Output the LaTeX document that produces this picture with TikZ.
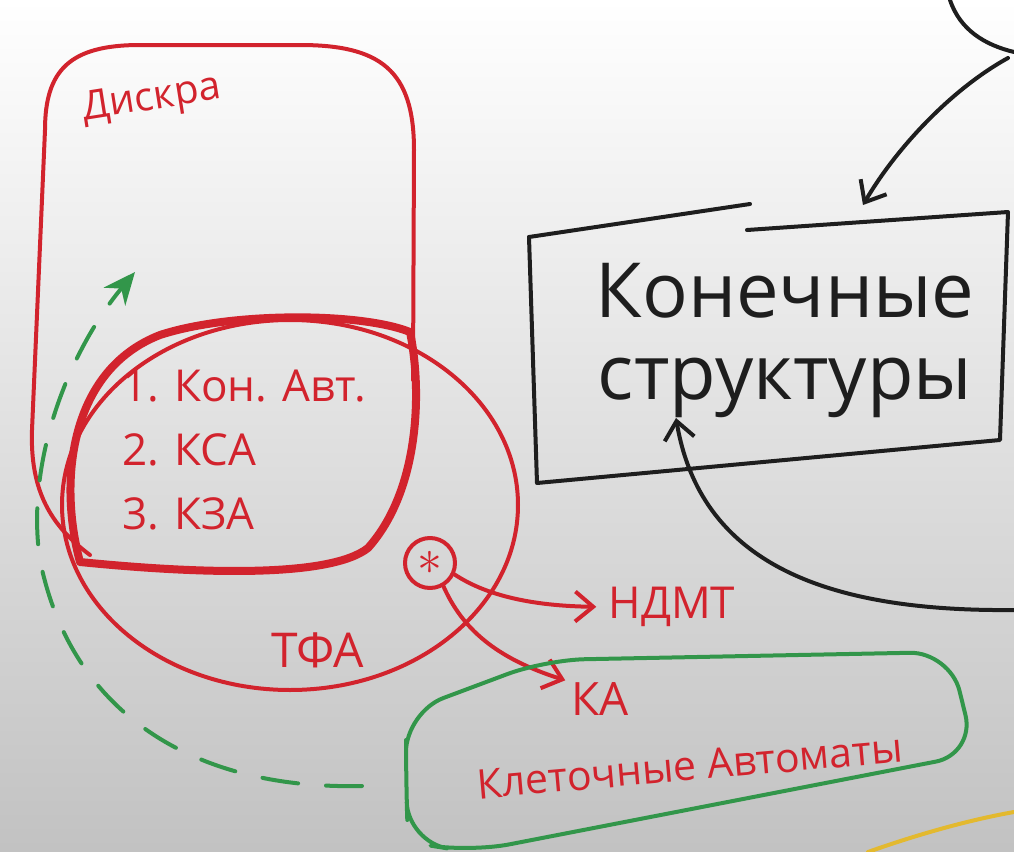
\documentclass[tikz,border=0pt]{standalone}
\usepackage{fontspec}
\setmainfont{Open Sans}
\usetikzlibrary{positioning,arrows.meta,shapes.geometric,calc}
\definecolor{PenRed}{HTML}{D2232D}
\definecolor{PenGreen}{HTML}{32964A}
\definecolor{PenBlack}{HTML}{1E1E1E}
\definecolor{PenYellow}{HTML}{E3B92F}

\begin{document}
\begin{tikzpicture}[x=0.5pt,y=-0.5pt,
  redline/.style={draw=PenRed, line width=2pt, line cap=round, line join=round},
  greenline/.style={draw=PenGreen, line width=2pt, line cap=round, line join=round},
  blackline/.style={draw=PenBlack, line width=2pt, line cap=round, line join=round},
  redtxt/.style={text=PenRed, inner sep=0pt, font=\fontsize{22}{32}\selectfont},
  barb/.style={-{Straight Barb[length=9pt,width=15pt]}}]
% paper
\shade[top color=white, middle color=black!4, bottom color=black!24] (0,0) rectangle (1014,852);
\useasboundingbox (0,0) rectangle (1014,852);

% sets
\node[ellipse, redline, minimum width=228pt, minimum height=185pt] (tfa) at (290,505) {};
\draw[redline] (413,380) -- (414,150) .. controls (414,70) and (380,45) .. (300,45)
  -- (140,45) .. controls (70,45) and (45,70) .. (45,130)
  -- (32,430) .. controls (30,490) and (50,525) .. (90,555);
\node[redtxt, rotate=9, font=\fontsize{20}{20}\selectfont] (diskra) at (152,100) {Дискра};
\draw[draw=PenRed, line width=4pt, line join=round]
  (160,335) .. controls (230,312) and (360,312) .. (410,332)
  .. controls (422,390) and (420,490) .. (368,548)
  .. controls (330,578) and (200,574) .. (80,562)
  .. controls (58,480) and (70,370) .. cycle;
\node[redtxt, align=left, anchor=west] (kon) at (122,450) {1. Кон. Авт.\\2. КСА\\3. КЗА};
\node[redtxt, font=\fontsize{24}{24}\selectfont] (tfalbl) at (318,650) {ТФА};

% special point and what follows
\node[circle, redline, minimum size=25pt, inner sep=0pt, text=PenRed] (star) at (430,563) {\fontsize{30}{30}\selectfont$\ast$};
\node[redtxt] (ndmt) at (672,607) {НДМТ};
\node[redtxt, font=\fontsize{23}{23}\selectfont] (ka) at (600,699) {КА};
\node[redtxt, rotate=5, font=\fontsize{20.5}{20.5}\selectfont] (klet) at (690,766) {Клеточные Автоматы};
\draw[redline, barb, shorten >=6pt] (star.-25) .. controls (490,598) and (540,606) .. (ndmt.west);
\draw[redline, barb, shorten >=3pt] (star.-60) .. controls (462,628) and (495,658) .. (ka.north west);

% cellular automata
\draw[greenline, rounded corners=20pt] (406,780) -- (406,712) -- (545,660) -- (950,652)
  -- (975,754) -- (470,852) -- (408,842) -- cycle;
\coordinate (dstart) at (362,786);
\coordinate (dend) at (135,272);
\draw[greenline, dash pattern=on 18pt off 14pt, -{Stealth[length=16pt,width=14pt]}]
  (dstart) .. controls (190,790) and (70,710) .. (40,560) .. controls (25,460) and (70,350) .. (dend);

% finite structures
\draw[blackline] (529,237) -- (750,204);
\draw[blackline] (747,230) -- (1008,212) -- (1000,440) -- (537,483) -- (529,237);
\node[text=PenBlack, inner sep=0pt, align=center, font=\fontsize{38}{41}\selectfont] (fs) at (785,340) {Конечные\\структуры};
\coordinate (boxin) at (676,418);
\coordinate (boxtop) at (863,205);
\coordinate (offright) at (1014,610);
\coordinate (offtop) at (1008,58);
\draw[blackline, barb] (offright) .. controls (820,612) and (700,560) .. (boxin);
\draw[blackline, barb] (offtop) .. controls (950,90) and (895,150) .. (boxtop);
\draw[blackline] (950,0) .. controls (960,30) and (985,45) .. (1014,52);

% stray stroke
\draw[draw=PenYellow, line width=2pt, line cap=round] (868,852) .. controls (930,830) and (980,818) .. (1014,812);
\end{tikzpicture}
\end{document}
